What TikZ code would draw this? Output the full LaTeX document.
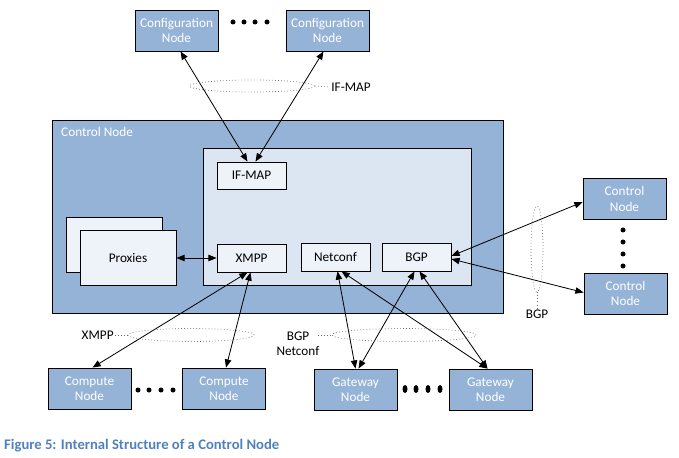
\documentclass[tikz,border=0pt]{standalone}
\usepackage{fontspec}
\setmainfont{Carlito}
\usetikzlibrary{arrows.meta,calc,shapes.geometric}
\definecolor{nodeblue}{RGB}{149,179,215}
\definecolor{innerblue}{RGB}{220,230,242}
\definecolor{boxblue}{RGB}{238,242,249}
\definecolor{captionblue}{RGB}{79,129,189}
\tikzset{
  peer/.style={draw, line width=0.7pt, fill=nodeblue, text=white, align=center,
    minimum width=2.49cm, minimum height=1.23cm, inner sep=1pt},
  module/.style={draw, line width=0.7pt, fill=boxblue, minimum width=2.07cm,
    minimum height=0.84cm, inner sep=1pt},
  link/.style={{Triangle[length=7pt,width=5.5pt]}-{Triangle[length=7pt,width=5.5pt]}, line width=0.7pt},
  ring/.style={draw, black!60, dotted, line width=0.6pt, ellipse, inner sep=0pt},
  tick/.style={black!60, dotted, line width=0.6pt},
  tag/.style={inner sep=1pt, align=center},
}
\begin{document}
\begin{tikzpicture}[x=0.03cm, y=-0.03cm, font=\fontsize{11.3}{13}\selectfont]
        \useasboundingbox (0,0) rectangle (679,458);
        % control node frame
        \draw[line width=0.7pt, fill=nodeblue] (52,120) rectangle (503,313);
        \node[text=white, anchor=west, inner sep=0pt] (ctrltitle) at (61,132) {Control Node};
        \draw[line width=0.7pt, fill=innerblue] (203,148) rectangle (471,285);
        % proxies (stacked)
        \draw[line width=0.7pt, fill=boxblue] (66,217) rectangle (162,272);
        \node[module, minimum width=2.88cm, minimum height=1.65cm] (proxies) at (128,257.5) {Proxies};
        % modules
        \node[module, minimum height=0.81cm] (ifmap) at (251.5,175.5) {IF-MAP};
        \node[module] (xmpp) at (251.5,258) {XMPP};
        \node[module] (netconf) at (335.5,257) {Netconf};
        \node[module] (bgp) at (416.5,257) {BGP};
        % outside nodes
        \node[peer] (config1) at (176.5,30.5) {Configuration\\Node};
        \node[peer] (config2) at (327.5,30.5) {Configuration\\Node};
        \node[peer] (control1) at (624.5,199) {Control\\Node};
        \node[peer] (control2) at (625.5,293.5) {Control\\Node};
        \node[peer] (compute1) at (89.5,388.5) {Compute\\Node};
        \node[peer] (compute2) at (224,388.5) {Compute\\Node};
        \node[peer] (gateway1) at (355.5,389.5) {Gateway\\Node};
        \node[peer] (gateway2) at (490.5,389.5) {Gateway\\Node};
        % dots
        \foreach \x in {233,244,255,267} \fill (\x,22) circle (0.075cm);
        \foreach \y in {230,242,254,266} \fill (623,\y) circle (0.075cm);
        \foreach \x in {138,149,161,173} \fill (\x,390) circle (0.075cm);
        \foreach \x in {405,416,428,440} \fill (\x,389) ellipse (0.075cm and 0.12cm);
        % connectors
        \draw[link] ($(config1.south)+(4,0)$) -- ($(ifmap.north)+(-4,0)$);
        \draw[link] ($(config2.south)+(-4,0)$) -- ($(ifmap.north)+(4,0)$);
        \draw[link] (proxies.east |- xmpp.west) -- (xmpp.west);
        \draw[link] ($(xmpp.south)+(-4,0)$) -- ($(compute1.north)+(3,0)$);
        \draw[link] ($(xmpp.south)+(-1,0)$) -- ($(compute2.north)+(2,0)$);
        \draw[link] ($(netconf.south)+(2,0)$) -- ($(gateway1.north)+(0,0)$);
        \draw[link] ($(netconf.south)+(6,0)$) -- ($(gateway2.north)+(-3,0)$);
        \draw[link] ($(bgp.south)+(-2,0)$) -- ($(gateway1.north)+(3,0)$);
        \draw[link] ($(bgp.south)+(3,0)$) -- ($(gateway2.north)+(-3,0)$);
        \draw[link] ($(bgp.east)+(0,-1)$) -- ($(control1.west)+(0,3)$);
        \draw[link] ($(bgp.east)+(0,2)$) -- ($(control2.west)+(0,-1)$);
        % protocol groupings
        \node[ring, minimum width=3.75cm, minimum height=0.36cm] (ifmapring) at (252,86) {};
        \node[tag, anchor=west] (ifmaptag) at (330,87) {IF-MAP};
        \draw[tick] (ifmapring.east) -- (ifmaptag.west);
        \node[ring, minimum width=3.78cm, minimum height=0.39cm] (xmppring) at (191,335) {};
        \node[tag, anchor=east] (xmpptag) at (115,335) {XMPP};
        \draw[tick] (xmpptag.east) -- (xmppring.west);
        \node[ring, minimum width=4.32cm, minimum height=0.39cm] (gwring) at (404,335) {};
        \node[tag] (gwtag) at (298,344) {BGP\\Netconf};
        \coordinate (gwtick) at (318,335);
        \draw[tick] (gwtick) -- (gwring.west);
        \node[ring, minimum width=0.36cm, minimum height=2.58cm] (bgpring) at (537,249) {};
        \node[tag, anchor=north] (bgptag) at (537,309) {BGP};
        \draw[tick] (bgpring.south) -- (bgptag.north);
        % caption
        \node[anchor=west, inner sep=0pt, text=captionblue, font=\fontsize{12.5}{14}\selectfont\bfseries]
          (caption) at (4,446) {Figure 5: Internal Structure of a Control Node};
\end{tikzpicture}
\end{document}
